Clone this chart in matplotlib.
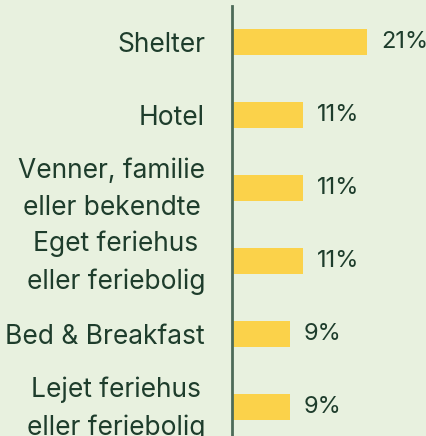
import matplotlib.pyplot as plt
from matplotlib.transforms import ScaledTranslation

# accommodation type and share of respondents (%)
categories = [
    "Shelter",
    "Hotel",
    "Venner, familie\neller bekendte",
    "Eget feriehus\neller feriebolig",
    "Bed & Breakfast",
    "Lejet feriehus\neller feriebolig",
]
shares = [21, 11, 11, 11, 9, 9]

BG = "#e8f1df"
BAR = "#fbd24a"
TEXT = "#1e3d2c"
AXIS = "#4d6b58"

plt.rcParams["font.family"] = ["Inter", "DejaVu Sans"]

W, H = 427, 436
fig = plt.figure(figsize=(W / 100, H / 100), dpi=100, facecolor=BG)
ax = fig.add_axes([232 / W, 0, (W - 232) / W, 430 / H], facecolor=BG)

pos = list(range(len(categories)))
ax.barh(pos, shares, height=0.356, color=BAR, edgecolor="none")

for y, v in zip(pos, shares):
    ax.annotate(f"{v}%", xy=(v, y), xytext=(10, 0), textcoords="offset points",
                ha="left", va="center", fontsize=17, color=TEXT)

ax.set_xlim(0, 30.3)
ax.set_ylim(5.397, -0.493)
ax.set_yticks(pos)
ax.set_yticklabels(categories, fontsize=19, color=TEXT, multialignment="center",
                   linespacing=1.55)
ax.tick_params(axis="y", length=0, pad=19.4)
ax.set_xticks([])

# two-line labels sit a little high so the text body centres on the bar
nudge = ScaledTranslation(0, 5 / 72, fig.dpi_scale_trans)
for lbl in ax.get_yticklabels():
    if "\n" in lbl.get_text():
        lbl.set_transform(lbl.get_transform() + nudge)

for side in ("top", "right", "bottom"):
    ax.spines[side].set_visible(False)
ax.spines["left"].set_color(AXIS)
ax.spines["left"].set_linewidth(2)

fig.savefig("out.png", dpi=100, facecolor=BG)
